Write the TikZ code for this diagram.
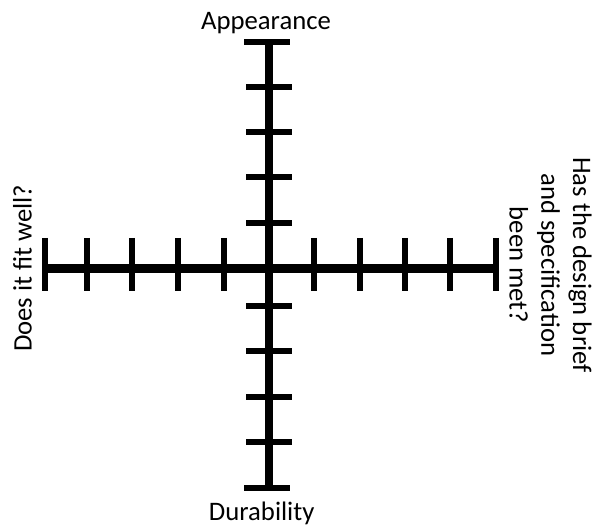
\documentclass[tikz,border=0pt]{standalone}
\usepackage{fontspec}
\setmainfont{Carlito}
\begin{document}
\begin{tikzpicture}[x=1pt,y=-1pt,
  axisline/.style={line width=8.3pt},
  tickmark/.style={line width=6pt},
  lbl/.style={font=\fontsize{26.7}{31.8}\selectfont, inner sep=0pt}]
\useasboundingbox (0,0) rectangle (605,526);
\coordinate (L) at (44.7,268.5);
\coordinate (R) at (495.7,268.5);
\coordinate (T) at (269.2,42);
\coordinate (B) at (269.2,487.5);
\draw[axisline] (L) -- (R);
\draw[axisline] (T) -- (B);
\foreach \x in {44.7,87.3,132.3,178,223.7,314.2,359.7,405,450.3,495.7}
  \draw[tickmark] (\x,238) -- (\x,291);
\draw[tickmark] (244.3,42) -- (290,42);
\draw[tickmark] (244.3,487.5) -- (290,487.5);
\foreach \y in {87,132.3,177,222.8,306.2,350.7,397,442.3}
  \draw[tickmark] (246,\y) -- (291.7,\y);
\node[lbl, anchor=base] (app) at (266,29.3) {Appearance};
\node[lbl, anchor=base] (dur) at (261.7,520) {Durability};
\node[lbl, anchor=base, rotate=90] (fit) at (31.7,268.3) {Does it fit well?};
\node[lbl, align=center, rotate=-90] (brief) at (550.5,265) {Has the design brief\\and specification\\been met?};
\end{tikzpicture}
\end{document}
